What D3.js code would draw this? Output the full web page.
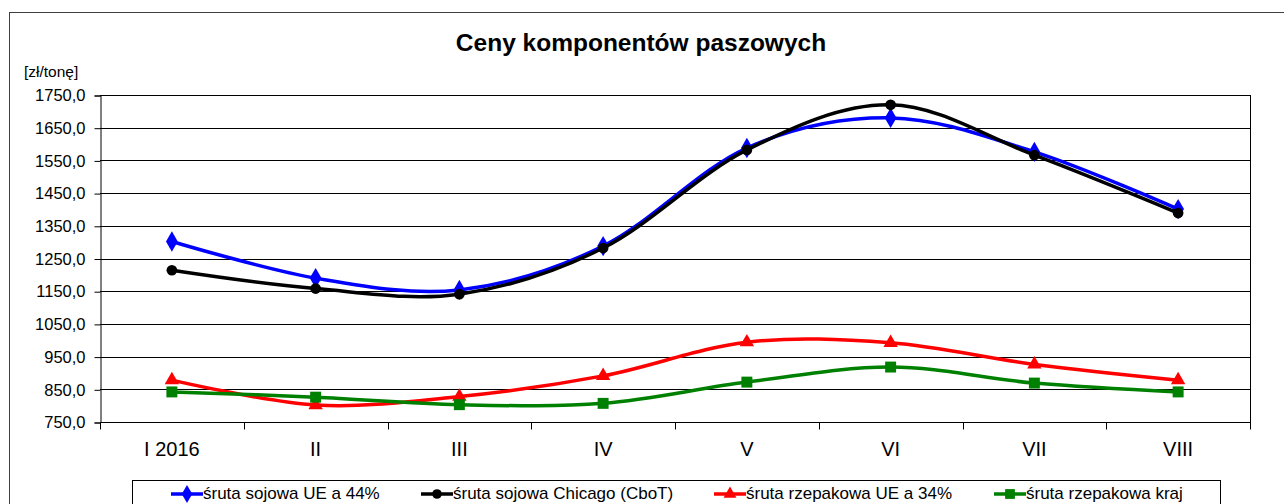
<!DOCTYPE html>
<meta charset="utf-8">
<script src="https://d3js.org/d3.v7.min.js"></script>
<style>
  body { margin: 0; background: #fff; }
  text { font-family: "Liberation Sans", Arial, sans-serif; }
</style>
<div id="chart_area"></div>
<script>

    // months on the x axis
    let months = ["I 2016", "II", "III", "IV", "V", "VI", "VII", "VIII"];

    // prices [zł/tonę]
    let sojaUE = [1302, 1190, 1154, 1288, 1588, 1680, 1576, 1401];
    let sojaChicago = [1214, 1158, 1141, 1282, 1582, 1720, 1566, 1389];
    let rzepakUE = [878, 802, 828, 891, 994, 992, 926, 878];
    let rzepakKraj = [842, 826, 803, 807, 872, 918, 869, 842];

    let yTicks = [750, 850, 950, 1050, 1150, 1250, 1350, 1450, 1550, 1650, 1750];

    let series = [
        {name: "śruta sojowa UE a 44%", values: sojaUE, color: "#0000ff", symbol: d3.symbolDiamond},
        {name: "śruta sojowa Chicago (CboT)", values: sojaChicago, color: "#000000", symbol: d3.symbolCircle},
        {name: "śruta rzepakowa UE a 34%", values: rzepakUE, color: "#ff0000", symbol: d3.symbolTriangle},
        {name: "śruta rzepakowa kraj", values: rzepakKraj, color: "#008000", symbol: d3.symbolSquare}
    ];

    let width = 1284;
    let height = 504;
    let margin = {left: 100, right: 34, top: 95, bottom: 82};

    let svg = d3.select("#chart_area")
                .append("svg")
                    .attr("width", width)
                    .attr("height", height);

    // outer chart frame
    svg.append("rect")
        .attr("x", 9.5).attr("y", 12.5)
        .attr("width", width).attr("height", height)
        .attr("fill", "none")
        .attr("stroke", "#404040");

    let x = d3.scaleBand()
              .domain(months)
              .range([margin.left, width - margin.right]);

    let y = d3.scaleLinear()
              .domain([750, 1750])
              .range([height - margin.bottom, margin.top]);

    // horizontal gridlines
    svg.append("g")
        .selectAll("line")
        .data(yTicks)
        .enter()
        .append("line")
            .attr("x1", margin.left)
            .attr("x2", width - margin.right)
            .attr("y1", d => Math.round(y(d)) + 0.5)
            .attr("y2", d => Math.round(y(d)) + 0.5)
            .attr("stroke", "#000");

    // right border of the plot area
    svg.append("line")
        .attr("x1", width - margin.right + 0.5).attr("x2", width - margin.right + 0.5)
        .attr("y1", margin.top).attr("y2", height - margin.bottom)
        .attr("stroke", "#000");

    // y axis
    let yAxis = svg.append("g")
        .attr("transform", "translate(" + (margin.left + 0.5) + ",0.5)")
        .call(d3.axisLeft(y)
                .tickValues(yTicks)
                .tickSize(6)
                .tickPadding(9)
                .tickFormat(d => d3.format(".1f")(d).replace(".", ",")));
    yAxis.selectAll("text").style("font-size", "16.5px").attr("fill", "#000");
    yAxis.selectAll("line, path").attr("stroke", "#000");

    // x axis, ticks between categories
    let xAxis = svg.append("g")
        .attr("transform", "translate(0," + (height - margin.bottom + 0.5) + ")");
    xAxis.append("line")
        .attr("x1", margin.left).attr("x2", width - margin.right + 1)
        .attr("stroke", "#000");
    let tickPos = months.map(m => x(m)).concat([x(months[months.length - 1]) + x.bandwidth()]);
    xAxis.selectAll(".tick")
        .data(tickPos)
        .enter()
        .append("line")
            .attr("x1", d => Math.round(d) + 0.5)
            .attr("x2", d => Math.round(d) + 0.5)
            .attr("y1", 0).attr("y2", 7)
            .attr("stroke", "#000");
    xAxis.selectAll("text")
        .data(months)
        .enter()
        .append("text")
            .attr("x", d => x(d) + x.bandwidth() / 2)
            .attr("y", 33)
            .attr("text-anchor", "middle")
            .style("font-size", "20px")
            .text(d => d);

    // title and unit
    svg.append("text")
        .attr("x", 641).attr("y", 51)
        .attr("text-anchor", "middle")
        .style("font-size", "24.5px")
        .style("font-weight", "bold")
        .text("Ceny komponentów paszowych");

    svg.append("text")
        .attr("x", 24).attr("y", 77)
        .style("font-size", "15.5px")
        .text("[zł/tonę]");

    // lines
    let line = d3.line()
                 .x((d, i) => x(months[i]) + x.bandwidth() / 2)
                 .y(d => y(d))
                 .curve(d3.curveCardinal.tension(0));

    let symbolSize = {"śruta sojowa UE a 44%": 120, "śruta sojowa Chicago (CboT)": 90,
                      "śruta rzepakowa UE a 34%": 90, "śruta rzepakowa kraj": 120};

    series.forEach(s => {
        svg.append("path")
            .attr("d", line(s.values))
            .attr("fill", "none")
            .attr("stroke", s.color)
            .attr("stroke-width", 3.5);

        svg.append("g")
            .selectAll("path")
            .data(s.values)
            .enter()
            .append("path")
                .attr("transform", (d, i) => "translate(" + (x(months[i]) + x.bandwidth() / 2) + "," + y(d) + ")")
                .attr("d", d3.symbol().type(s.symbol).size(symbolSize[s.name]))
                .attr("fill", s.color);
    });

    // legend
    svg.append("rect")
        .attr("x", 132.5).attr("y", 480.5)
        .attr("width", 1088).attr("height", 40)
        .attr("fill", "#fff")
        .attr("stroke", "#000");

    let legendX = [171, 421, 714, 994];
    let legend = svg.append("g")
        .selectAll("g")
        .data(series)
        .enter()
        .append("g")
            .attr("transform", (d, i) => "translate(" + legendX[i] + ",494)");
    legend.append("line")
        .attr("x1", 0).attr("x2", 32)
        .attr("stroke", d => d.color)
        .attr("stroke-width", 3.5);
    legend.append("path")
        .attr("transform", "translate(16,0)")
        .attr("d", d => d3.symbol().type(d.symbol).size(symbolSize[d.name] * 0.8)())
        .attr("fill", d => d.color);
    legend.append("text")
        .attr("x", 32).attr("y", 5)
        .style("font-size", "17px")
        .text(d => d.name);

</script>
</html>
